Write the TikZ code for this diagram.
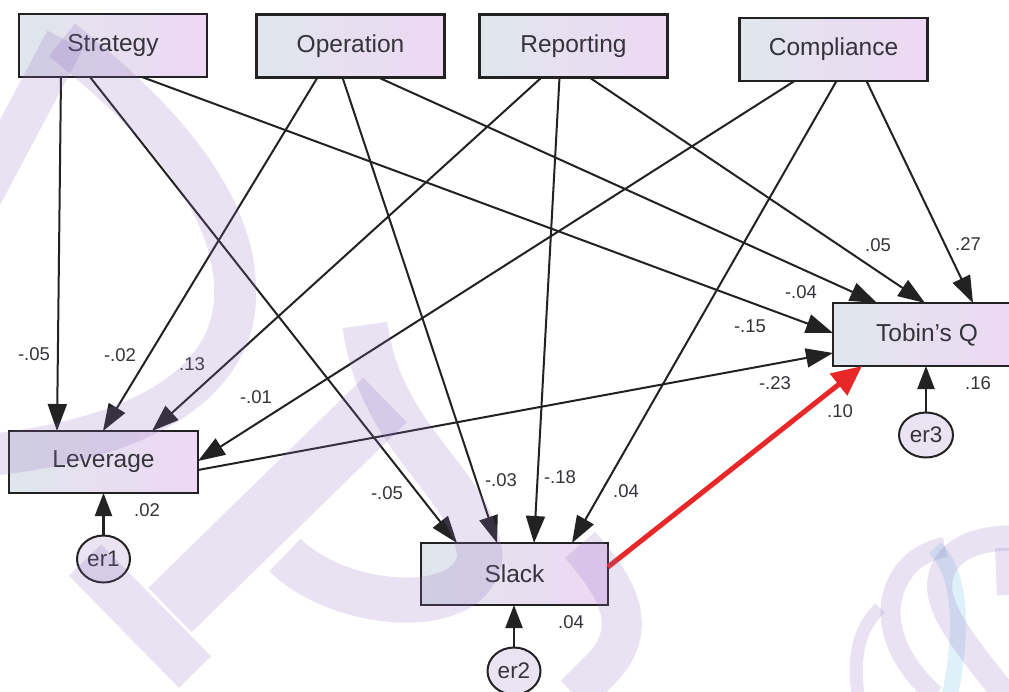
\documentclass[tikz,border=0pt]{standalone}
\usepackage{fontspec}
\setmainfont{Liberation Sans}
\usetikzlibrary{arrows.meta,shapes.geometric}

\definecolor{boxL}{RGB}{224,230,236}
\definecolor{boxR}{RGB}{238,216,244}
\definecolor{errfill}{RGB}{234,228,242}
\definecolor{ink}{RGB}{34,34,34}
\definecolor{txt}{RGB}{52,52,58}
\definecolor{redarrow}{RGB}{232,40,40}
\definecolor{wmpurple}{RGB}{140,110,190}
\definecolor{wmblue}{RGB}{90,180,220}

\begin{document}
\begin{tikzpicture}[x=1pt,y=-1pt,
  var/.style={draw=ink, line width=2.2pt, left color=boxL, right color=boxR,
    minimum width=188pt, minimum height=63pt, inner sep=0pt, outer sep=0pt,
    font=\fontsize{24.5}{28}\selectfont, text=txt},
  err/.style={ellipse, draw=ink, line width=2pt, fill=errfill,
    minimum width=53pt, minimum height=47pt, inner sep=0pt, outer sep=0pt,
    font=\fontsize{22.5}{26}\selectfont, text=txt},
  link/.style={draw=ink, line width=2pt, -{Triangle[length=27pt,width=19pt]}},
  errlink/.style={draw=ink, line width=2.2pt, -{Triangle[length=23pt,width=17pt]}},
  redlink/.style={draw=redarrow, line width=5pt, -{Triangle[length=30pt,width=27pt]}},
  lab/.style={font=\fontsize{18.5}{21}\selectfont, text=txt, inner sep=0pt},
  wm/.style={draw=wmpurple, draw opacity=0.2, line cap=butt},
  wmb/.style={draw=wmblue, draw opacity=0.2, line cap=butt}
]
\fill[white] (0,0) rectangle (1009,691);
\useasboundingbox (0,0) rectangle (1009,691);
\clip (0,0) rectangle (1009,691);

% observed variables
\node[var] (strategy)   at (113,45.5)  {Strategy};
\node[var] (operation)  at (350.5,46)  {Operation};
\node[var] (reporting)  at (573.5,46)  {Reporting};
\node[var] (compliance) at (833.5,49.5){Compliance};
\node[var] (tobin)      at (927,334.5) {Tobin's Q};
\node[var, minimum width=189pt, minimum height=62pt] (leverage) at (103.5,462) {Leverage};
\node[var, minimum width=187pt, minimum height=62pt] (slack)    at (514.5,574) {Slack};

% error terms
\node[err] (er1) at (103.5,559) {er1};
\node[err] (er2) at (514,671)   {er2};
\node[err, minimum width=54pt, minimum height=45pt] (er3) at (926,435) {er3};

% paths from the four control dimensions
\draw[link] ([xshift=42pt]strategy.south west)  -- ([xshift=48pt]leverage.north west);
\draw[link] ([xshift=71pt]strategy.south west)  -- ([xshift=36pt]slack.north west);
\draw[link] ([xshift=123pt]strategy.south west) -- ([yshift=-30pt]tobin.north west);

\draw[link] ([xshift=61pt]operation.south west)  -- ([xshift=94pt]leverage.north west);
\draw[link] ([xshift=86pt]operation.south west)  -- ([xshift=76pt]slack.north west);
\draw[link] ([xshift=122pt]operation.south west) -- ([xshift=44pt]tobin.north west);

\draw[link] ([xshift=62pt]reporting.south west)  -- ([xshift=143pt]leverage.north west);
\draw[link] ([xshift=80pt]reporting.south west)  -- ([xshift=113pt]slack.north west);
\draw[link] ([xshift=110pt]reporting.south west) -- ([xshift=92pt]tobin.north west);

\draw[link] ([xshift=55pt]compliance.south west)  -- ([yshift=-30pt]leverage.north east);
\draw[link] ([xshift=97pt]compliance.south west)  -- ([xshift=151pt]slack.north west);
\draw[link] ([xshift=127pt]compliance.south west) -- ([xshift=140pt]tobin.north west);

% mediators to Tobin's Q
\draw[link] ([yshift=-39pt]leverage.north east) -- ([yshift=-50pt]tobin.north west);
\draw[redlink] ([yshift=-24pt]slack.north east) -- ([xshift=29pt]tobin.south west);

% error arrows
\draw[errlink] (er1.north) -- (er1.north |- leverage.south);
\draw[errlink] (er2.north) -- (er2.north |- slack.south);
\draw[errlink] (er3.north) -- (er3.north |- tobin.south);

% coefficients
\node[lab] (c1)  at (34,354)  {-.05};
\node[lab] (c2)  at (120,355) {-.02};
\node[lab] (c3)  at (192,364) {.13};
\node[lab] (c4)  at (256,397) {-.01};
\node[lab] (c5)  at (387,493) {-.05};
\node[lab] (c6)  at (501,480) {-.03};
\node[lab] (c7)  at (560,477) {-.18};
\node[lab] (c8)  at (626,491) {.04};
\node[lab] (c9)  at (878,245) {.05};
\node[lab] (c10) at (968,244) {.27};
\node[lab] (c11) at (801,292) {-.04};
\node[lab] (c12) at (750,326) {-.15};
\node[lab] (c13) at (775,383) {-.23};
\node[lab] (c14) at (840,411) {.10};
\node[lab] (r1)  at (147,510) {.02};
\node[lab] (r2)  at (571,622) {.04};
\node[lab] (r3)  at (978,383) {.16};

% pale logo strokes in the background
\draw[wm, line width=40pt] (65,40) -- (-20,200);
\draw[wm, line width=42pt] (62,40) .. controls (150,110) and (240,200) .. (235,300)
   .. controls (230,390) and (130,440) .. (-10,455);
\draw[wm, line width=62pt] (385,400) -- (170,610);
\draw[wm, line width=45pt] (85,560) -- (195,672);
\draw[wm, line width=45pt] (365,325) .. controls (380,440) and (470,480) .. (480,555)
   .. controls (475,620) and (340,610) .. (285,555);
\draw[wm, line width=40pt] (580,545) .. controls (620,590) and (640,630) .. (600,670) -- (575,695);
\draw[wm, line width=13pt] (858,695) .. controls (852,650) and (862,625) .. (880,608);
\draw[wm, line width=20pt] (935,695) .. controls (895,660) and (875,610) .. (905,570)
   .. controls (915,557) and (930,550) .. (945,547);
\draw[wmb, line width=16pt] (935,548) .. controls (958,570) and (965,620) .. (950,695);
\draw[wm, line width=25pt] (1005,695) .. controls (970,650) and (935,610) .. (940,580)
   .. controls (945,550) and (975,538) .. (1012,538);
\draw[wm, line width=16pt] (1003,548) -- (1005,595);
\end{tikzpicture}
\end{document}
